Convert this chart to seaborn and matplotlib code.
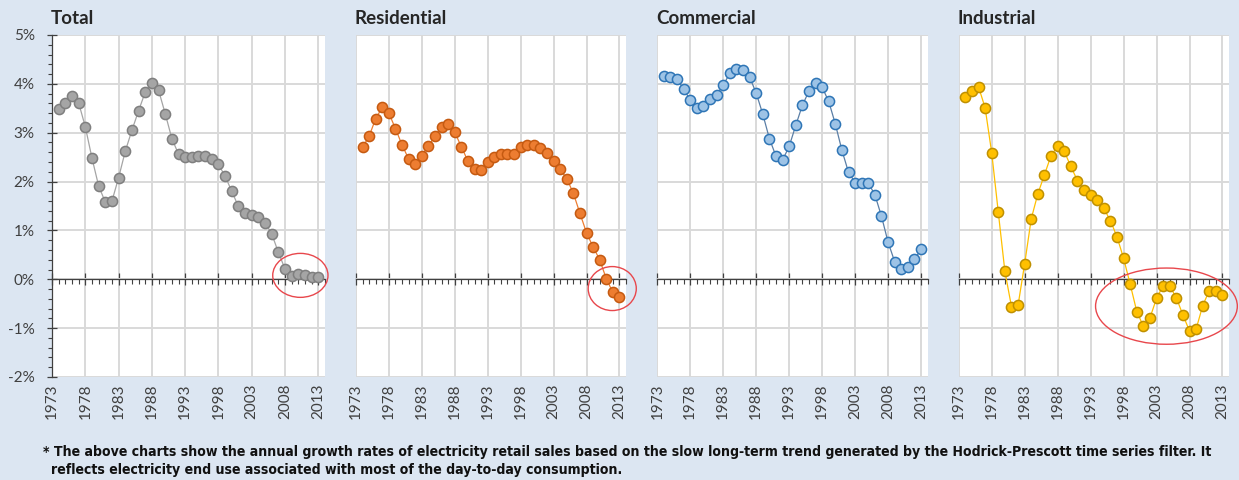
"""Annual growth of electricity retail sales by sector (HP-filter trend)."""

import matplotlib

matplotlib.use("Agg")

import matplotlib.pyplot as plt
import pandas as pd
import seaborn as sns
from matplotlib.patches import Ellipse
from matplotlib.ticker import FixedLocator, FuncFormatter, MultipleLocator

YEARS = list(range(1974, 2014))

TOTAL = [
    3.49, 3.60, 3.75, 3.61, 3.12, 2.48, 1.91, 1.58, 1.60, 2.08,
    2.62, 3.05, 3.45, 3.83, 4.02, 3.87, 3.39, 2.88, 2.56, 2.50,
    2.51, 2.53, 2.53, 2.47, 2.35, 2.11, 1.80, 1.49, 1.36, 1.32,
    1.28, 1.16, 0.93, 0.55, 0.21, 0.06, 0.11, 0.08, 0.04, 0.04,
]
RESIDENTIAL = [
    2.70, 2.93, 3.29, 3.52, 3.40, 3.08, 2.75, 2.46, 2.35, 2.53,
    2.73, 2.93, 3.12, 3.17, 3.01, 2.71, 2.42, 2.25, 2.23, 2.40,
    2.50, 2.57, 2.57, 2.57, 2.70, 2.74, 2.74, 2.69, 2.59, 2.42,
    2.25, 2.06, 1.76, 1.35, 0.95, 0.66, 0.40, 0.01, -0.27, -0.36,
]
COMMERCIAL = [
    4.16, 4.14, 4.09, 3.90, 3.66, 3.51, 3.55, 3.68, 3.78, 3.97,
    4.22, 4.31, 4.28, 4.14, 3.81, 3.38, 2.88, 2.52, 2.44, 2.72,
    3.15, 3.56, 3.85, 4.02, 3.93, 3.64, 3.18, 2.64, 2.19, 1.98,
    1.97, 1.97, 1.73, 1.29, 0.76, 0.36, 0.21, 0.25, 0.41, 0.61,
]
INDUSTRIAL = [
    3.74, 3.86, 3.94, 3.51, 2.59, 1.37, 0.16, -0.56, -0.53, 0.32,
    1.24, 1.75, 2.14, 2.53, 2.73, 2.62, 2.31, 2.02, 1.83, 1.73,
    1.63, 1.45, 1.20, 0.87, 0.43, -0.10, -0.66, -0.96, -0.79, -0.39,
    -0.13, -0.14, -0.38, -0.73, -1.06, -1.02, -0.54, -0.23, -0.23, -0.33,
]

SECTORS = ["Total", "Residential", "Commercial", "Industrial"]
YEAR_TICKS = list(range(1973, 2014, 5))
PCT_TICKS = list(range(-2, 6))

FOOTNOTE_1 = (
    "* The above charts show the annual growth rates of electricity retail sales based on the "
    "slow long-term trend generated by the Hodrick-Prescott time series filter. It"
)
FOOTNOTE_2 = "reflects electricity end use associated with most of the day-to-day consumption."

BG = "#dce6f2"
GRID = "#d9d9d9"
AXIS = "#404040"
STYLES = {
    "Total": dict(line="#a5a5a5", face="#a5a5a5", edge="#7f7f7f"),
    "Residential": dict(line="#ed7d31", face="#ed7d31", edge="#c55a11"),
    "Commercial": dict(line="#5b7fa6", face="#9dc3e6", edge="#2e75b6"),
    "Industrial": dict(line="#ffc000", face="#ffc000", edge="#bf9000"),
}
# red call-out ellipses: (x centre, y centre, width in years, height in %)
CALLOUTS = {
    "Total": (2010.3, 0.08, 8.3, 0.9),
    "Residential": (2011.9, -0.19, 7.3, 0.9),
    "Industrial": (2004.5, -0.55, 21.5, 1.56),
}
# axes boxes in figure fraction
LEFTS = [0.042, 0.2873, 0.5305, 0.7738]
WIDTHS = [0.2203, 0.218, 0.2182, 0.2182]
BOTTOM, HEIGHT = 0.2146, 0.7125

sns.set_style("white")
plt.rcParams["font.family"] = ["Lato", "DejaVu Sans"]

df = pd.DataFrame(
    {"year": YEARS, "Total": TOTAL, "Residential": RESIDENTIAL,
     "Commercial": COMMERCIAL, "Industrial": INDUSTRIAL}
)

fig = plt.figure(figsize=(12.39, 4.8), dpi=100, facecolor=BG)

for i, sector in enumerate(SECTORS):
    ax = fig.add_axes([LEFTS[i], BOTTOM, WIDTHS[i], HEIGHT])
    ax.set_facecolor("white")
    st = STYLES[sector]
    sns.lineplot(
        data=df, x="year", y=sector, ax=ax,
        color=st["line"], linewidth=0.9, marker="o", markersize=7.3,
        markerfacecolor=st["face"], markeredgecolor=st["edge"], markeredgewidth=1.1,
        zorder=4, clip_on=False,
    )
    ax.set_xlim(1973, 2014)
    ax.set_ylim(-2, 5)
    ax.set_xlabel("")
    ax.set_ylabel("")

    ax.xaxis.set_major_locator(FixedLocator(YEAR_TICKS))
    ax.xaxis.set_minor_locator(MultipleLocator(1))
    ax.yaxis.set_major_locator(FixedLocator(PCT_TICKS))
    ax.yaxis.set_minor_locator(MultipleLocator(0.2))
    ax.grid(True, which="major", color=GRID, linewidth=1.4)
    ax.set_axisbelow(True)

    for side in ["top", "right", "left"]:
        ax.spines[side].set_visible(False)
    ax.spines["bottom"].set_position(("data", 0))
    ax.spines["bottom"].set_color(AXIS)
    ax.spines["bottom"].set_linewidth(0.9)
    ax.spines["bottom"].set_zorder(3)
    ax.tick_params(axis="x", which="both", bottom=True, labelbottom=False)
    ax.tick_params(axis="x", which="major", direction="inout", length=8, width=0.9,
                   color=AXIS)
    ax.tick_params(axis="x", which="minor", direction="out", length=3.5, width=0.8,
                   color=AXIS)

    if i == 0:
        ax.spines["left"].set_visible(True)
        ax.spines["left"].set_color(AXIS)
        ax.spines["left"].set_linewidth(0.9)
        ax.yaxis.set_major_formatter(FuncFormatter(lambda v, _: f"{v:.0f}%"))
        ax.tick_params(axis="y", which="both", left=True)
        ax.tick_params(axis="y", which="major", direction="inout", length=7, width=0.9,
                       color=AXIS, labelsize=11, labelcolor=AXIS, pad=9)
        ax.tick_params(axis="y", which="minor", direction="out", length=3, width=0.8,
                       color=AXIS)
    else:
        ax.tick_params(axis="y", which="both", left=False, labelleft=False)

    sec = ax.secondary_xaxis("bottom")
    sec.set_xticks(YEAR_TICKS)
    sec.set_xticklabels([str(y) for y in YEAR_TICKS])
    sec.tick_params(length=0, labelrotation=90, labelsize=11, labelcolor=AXIS, pad=5)
    sec.spines["bottom"].set_visible(False)

    ax.set_title(sector, loc="left", fontsize=13.5, fontweight="bold", pad=8, x=-0.005)

    if sector in CALLOUTS:
        cx, cy, w, h = CALLOUTS[sector]
        ax.add_patch(Ellipse((cx, cy), w, h, fill=False, edgecolor="#e8474c",
                             linewidth=1.0, clip_on=False, zorder=5))

note_font = dict(family=["DejaVu Sans"], fontstretch="condensed", fontsize=10.1,
                 fontweight="bold", va="center", ha="left", color="#111111")
fig.text(0.035, 1 - 452 / 480, FOOTNOTE_1, **note_font)
fig.text(0.0415, 1 - 470 / 480, FOOTNOTE_2, **note_font)

fig.savefig("out.png", dpi=100, facecolor=BG)
